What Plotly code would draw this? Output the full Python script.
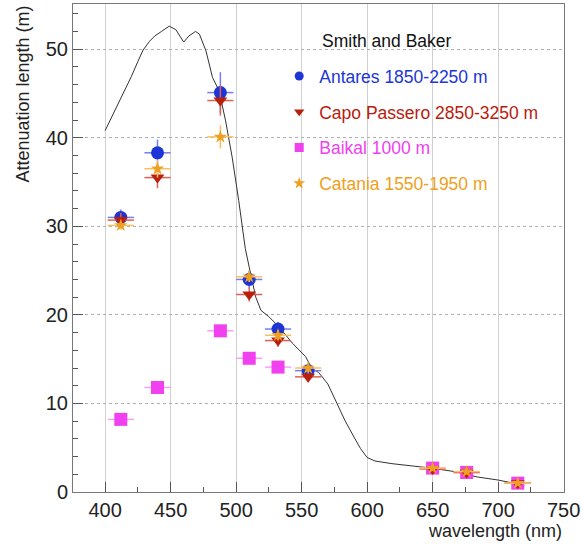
import plotly.graph_objects as go

# Smith and Baker reference curve (pure water attenuation length)
sb_wl = [400, 405, 410, 415, 420, 425, 429, 434, 438, 443, 449, 454, 460, 464, 469,
         472, 477, 482, 487, 492, 497, 502, 507, 510, 515, 519, 525, 533, 543, 553,
         558, 563, 570, 577, 583, 590, 595, 600, 606, 619, 631, 649, 667, 684, 700,
         712, 720]
sb_len = [40.8, 42.3, 43.8, 45.3, 46.9, 48.6, 49.9, 50.9, 51.5, 52.0, 52.6, 52.2, 50.8,
          51.5, 52.0, 51.7, 49.8, 46.8, 45.3, 41.9, 37.8, 32.9, 27.5, 25.4, 22.0, 20.5,
          19.8, 18.6, 16.8, 15.3, 13.9, 13.5, 12.2, 10.0, 8.1, 6.2, 4.9, 3.9, 3.5, 3.2,
          3.0, 2.7, 2.3, 1.7, 1.35, 1.0, 0.75]

# Measurements
antares_wl = [412, 440, 488, 510, 532, 555]
antares_len = [31.0, 38.3, 45.1, 24.0, 18.4, 13.7]
antares_err = [0.9, 1.5, 2.3, 1.0, 0.8, 0.6]

capo_wl = [412, 440, 488, 510, 532, 555, 650, 676, 715]
capo_len = [30.7, 35.5, 44.2, 22.3, 17.1, 13.0, 2.6, 2.2, 1.0]
capo_err = [0.8, 1.2, 1.7, 0.8, 0.7, 0.6, 0.3, 0.3, 0.2]

baikal_wl = [412, 440, 488, 510, 532, 650, 676, 715]
baikal_len = [8.2, 11.8, 18.2, 15.1, 14.1, 2.7, 2.2, 1.0]
baikal_err = [0.3, 0.3, 0.4, 0.4, 0.3, 0.2, 0.2, 0.2]

catania_wl = [412, 440, 488, 510, 532, 555, 650, 676, 715]
catania_len = [30.1, 36.5, 40.1, 24.3, 17.7, 14.0, 2.7, 2.3, 1.0]
catania_err = [0.5, 1.0, 1.3, 0.6, 0.6, 0.5, 0.3, 0.3, 0.2]

wl_err = 10  # nm, half-width of the filter band

ANT = "#1d35d6"
CAPO = "#b8200c"
BAI = "#f040f0"
CAT = "#f0a020"
FONT = "Liberation Sans, Arial, Helvetica, sans-serif"

fig = go.Figure()

fig.add_trace(go.Scatter(x=sb_wl, y=sb_len, mode="lines",
                         line=dict(color="#333333", width=1), showlegend=False))


def data_trace(x, y, ey, color, symbol, size, barcolor):
    return go.Scatter(
        x=x, y=y, mode="markers", showlegend=False,
        marker=dict(color=color, symbol=symbol, size=size, line=dict(width=0)),
        error_x=dict(type="constant", value=wl_err, color=barcolor, thickness=1.5, width=0),
        error_y=dict(type="data", array=ey, color=barcolor, thickness=1.5, width=0),
    )


fig.add_trace(data_trace(baikal_wl, baikal_len, baikal_err, BAI, "square", 13, "#f8a0f8"))
fig.add_trace(data_trace(antares_wl, antares_len, antares_err, ANT, "circle", 13, "#7080f0"))
fig.add_trace(data_trace(capo_wl, capo_len, capo_err, CAPO, "triangle-down", 12, "#e06050"))
fig.add_trace(data_trace(catania_wl, catania_len, catania_err, CAT, "star", 10, "#f8c060"))

# Legend entries
legend_items = [
    ("Antares 1850-2250 m", ANT, "circle"),
    ("Capo Passero 2850-3250 m", CAPO, "triangle-down"),
    ("Baikal 1000 m", BAI, "square"),
    ("Catania 1550-1950 m", CAT, "star"),
]
for i, (name, color, symbol) in enumerate(legend_items):
    fig.add_trace(go.Scatter(
        x=[None], y=[None], mode="markers", legendgroup=str(i),
        name=f"<span style='color:{color}'>{name}</span>",
        marker=dict(color=color, symbol=symbol, size=9),
    ))

axis_common = dict(
    showline=True, linecolor="#777777", linewidth=1, mirror=True,
    ticks="inside", tickcolor="#555555", ticklen=10,
    tickfont=dict(family=FONT, size=20, color="#222222"),
    zeroline=False,
)

fig.update_xaxes(range=[375.5, 750.3], dtick=50, tick0=400,
                 showgrid=True, gridcolor="#d0d0d0", gridwidth=1,
                 minor=dict(dtick=25, ticks="inside", ticklen=5, tickcolor="#555555", showgrid=False),
                 **axis_common)
fig.update_yaxes(range=[0, 55.1], dtick=10, tick0=0,
                 showgrid=True, gridcolor="#b0b0b0", gridwidth=1, griddash="dot",
                 minor=dict(dtick=2, ticks="inside", ticklen=5, tickcolor="#555555", showgrid=False),
                 **axis_common)

fig.add_annotation(text="wavelength (nm)", xref="paper", yref="paper", x=1, y=0,
                   xanchor="right", yanchor="middle", yshift=-39, showarrow=False,
                   font=dict(family=FONT, size=18, color="#222222"))
fig.add_annotation(text="Attenuation length (m)", xref="paper", yref="paper", x=0, y=1,
                   xanchor="center", yanchor="top", xshift=-51, showarrow=False, textangle=-90,
                   font=dict(family=FONT, size=18, color="#222222"))
fig.add_annotation(text="Smith and Baker", xref="paper", yref="paper", x=0.503, y=0.924,
                   xanchor="left", yanchor="middle", showarrow=False,
                   font=dict(family=FONT, size=17.5, color="#111111"))

fig.update_layout(
    width=583, height=547,
    margin=dict(l=73, r=17, t=3, b=55),
    paper_bgcolor="white", plot_bgcolor="white",
    font=dict(family=FONT),
    showlegend=True,
    legend=dict(
        x=0.42, y=0.889, xanchor="left", yanchor="top",
        bgcolor="rgba(0,0,0,0)", borderwidth=0,
        font=dict(family=FONT, size=17.5),
        traceorder="grouped", tracegroupgap=10, itemsizing="trace",
    ),
)

fig.write_html("out.html")
